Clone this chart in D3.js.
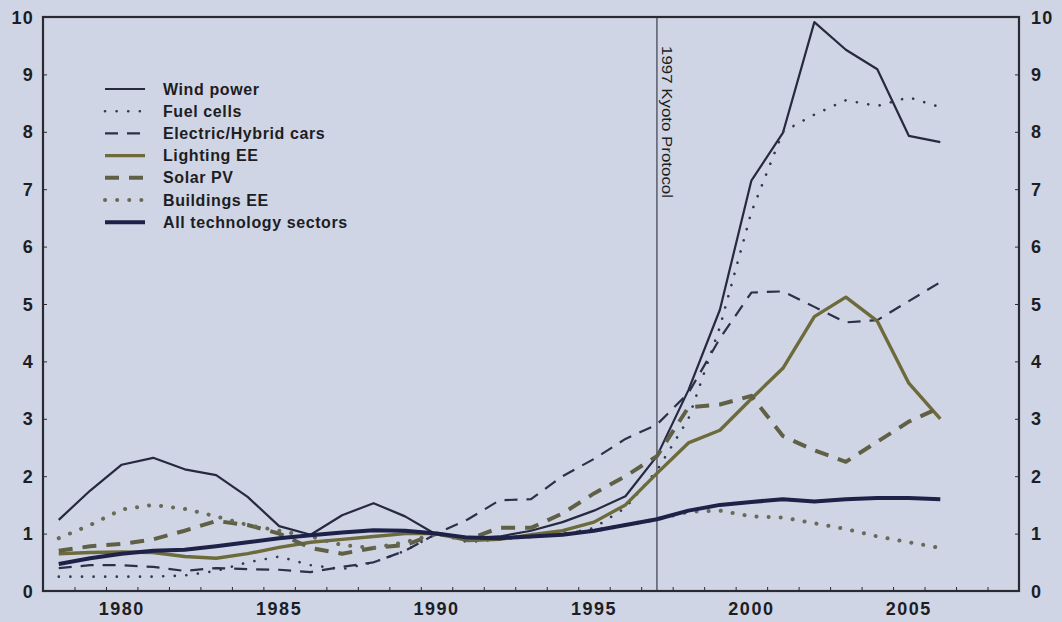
<!DOCTYPE html>
<html>
<head>
<meta charset="utf-8">
<script src="https://cdn.jsdelivr.net/npm/d3@7"></script>
<style>
  body { margin: 0; background: #cfd5e4; }
  text { font-family: "Liberation Sans", Arial, sans-serif; font-weight: bold; fill: #1d1d24; }
</style>
</head>
<body>
<div id="chart"></div>
<script>
// years 1978..2006
const years = d3.range(1978, 2007)

const windPower   = [1.24,1.75,2.2,2.32,2.12,2.02,1.64,1.13,0.98,1.32,1.53,1.3,0.98,0.92,0.95,1.05,1.2,1.4,1.65,2.35,3.5,4.9,7.15,7.98,9.91,9.43,9.09,7.93,7.82]
const fuelCells   = [0.25,0.25,0.25,0.25,0.27,0.35,0.5,0.6,0.45,0.38,0.5,0.7,1.0,0.85,0.9,0.95,0.98,1.1,1.45,2.1,3.0,4.6,6.6,8.0,8.3,8.55,8.45,8.6,8.43]
const electricCars= [0.4,0.45,0.45,0.42,0.35,0.4,0.38,0.37,0.33,0.42,0.5,0.7,1.0,1.25,1.58,1.6,2.0,2.3,2.65,2.9,3.45,4.4,5.2,5.22,4.95,4.68,4.72,5.05,5.38]
const lightingEE  = [0.65,0.67,0.68,0.67,0.6,0.57,0.65,0.76,0.85,0.9,0.95,1.0,1.0,0.88,0.9,0.98,1.05,1.2,1.5,2.05,2.58,2.8,3.35,3.88,4.78,5.12,4.7,3.62,3.0]
const solarPV     = [0.7,0.78,0.82,0.9,1.05,1.22,1.15,1.0,0.75,0.65,0.75,0.8,1.0,0.9,1.1,1.1,1.35,1.7,2.0,2.35,3.2,3.25,3.4,2.7,2.45,2.25,2.6,2.95,3.2]
const buildingsEE = [0.92,1.15,1.42,1.5,1.43,1.3,1.15,1.05,0.95,0.8,0.75,0.85,1.0,0.9,0.92,0.95,1.0,1.05,1.15,1.25,1.38,1.4,1.3,1.28,1.18,1.08,0.95,0.85,0.75]
const allSectors  = [0.47,0.57,0.65,0.7,0.72,0.78,0.85,0.92,0.97,1.02,1.06,1.05,1.0,0.93,0.92,0.95,0.98,1.05,1.15,1.25,1.4,1.5,1.55,1.6,1.56,1.6,1.62,1.62,1.6]

const seriesNames = ["Wind power","Fuel cells","Electric/Hybrid cars","Lighting EE","Solar PV","Buildings EE","All technology sectors"]
const seriesValues = [windPower, fuelCells, electricCars, lightingEE, solarPV, buildingsEE, allSectors]

const xTickLabels = [1980, 1985, 1990, 1995, 2000, 2005]
const yTickLabels = d3.range(0, 11)
const kyotoYear = 1997

const styles = [
    {color: "#262940", width: 2.2, dash: null,       cap: "butt"},
    {color: "#34384f", width: 2.6, dash: "0.1,11.5", cap: "round"},
    {color: "#2c3048", width: 2.2, dash: "13,9",     cap: "butt"},
    {color: "#6d6a3c", width: 3.4, dash: null,       cap: "butt"},
    {color: "#5f6046", width: 4,   dash: "14,10",    cap: "butt"},
    {color: "#6a6a58", width: 4,   dash: "0.1,12",   cap: "round"},
    {color: "#1e2148", width: 4,   dash: null,       cap: "butt"}
]

const outerWidth = 1062, outerHeight = 622
const margin = {left: 43, right: 43, top: 17, bottom: 31}

const x = d3.scaleLinear()
    .domain([1977.5, 2008.5])
    .range([margin.left, outerWidth - margin.right])

const y = d3.scaleLinear()
    .domain([0, 10])
    .range([outerHeight - margin.bottom, margin.top])

const svg = d3.select("#chart").append("svg")
    .attr("width", outerWidth)
    .attr("height", outerHeight)

svg.append("rect")
    .attr("width", outerWidth)
    .attr("height", outerHeight)
    .attr("fill", "#cfd5e4")

// kyoto marker
svg.append("line")
    .attr("x1", x(kyotoYear)).attr("x2", x(kyotoYear))
    .attr("y1", y(10)).attr("y2", y(0))
    .attr("stroke", "#3a3c4c")
    .attr("stroke-width", 1.2)

svg.append("text")
    .text("1997 Kyoto Protocol")
    .attr("transform", "translate(" + (x(kyotoYear) + 5) + "," + 46 + ") rotate(90)")
    .attr("font-size", 15)
    .style("font-weight", "normal")
    .attr("textLength", 152)
    .attr("lengthAdjust", "spacingAndGlyphs")

// lines
const line = d3.line()
    .x((d, i) => x(years[i]))
    .y(d => y(d))

svg.selectAll(".series")
    .data(seriesValues)
    .enter().append("path")
    .attr("class", "series")
    .attr("d", d => line(d))
    .attr("fill", "none")
    .attr("stroke", (d, i) => styles[i].color)
    .attr("stroke-width", (d, i) => styles[i].width)
    .attr("stroke-dasharray", (d, i) => styles[i].dash)
    .attr("stroke-linecap", (d, i) => styles[i].cap)
    .attr("stroke-linejoin", "round")

// frame + axes
const xAxis = d3.axisBottom(x)
    .tickValues(d3.range(1978.5, 2008.5, 1))
    .tickSize(-4)
    .tickFormat("")

svg.append("g")
    .attr("transform", "translate(0," + y(0) + ")")
    .call(xAxis)
    .call(g => g.select(".domain").remove())
    .selectAll("line").attr("stroke", "#2a2a35")

svg.append("g")
    .attr("transform", "translate(" + x(1977.5) + ",0)")
    .call(d3.axisLeft(y).tickValues(yTickLabels).tickSize(-4).tickFormat(""))
    .call(g => g.select(".domain").remove())
    .selectAll("line").attr("stroke", "#2a2a35")

svg.append("g")
    .attr("transform", "translate(" + x(2008.5) + ",0)")
    .call(d3.axisRight(y).tickValues(yTickLabels).tickSize(-4).tickFormat(""))
    .call(g => g.select(".domain").remove())
    .selectAll("line").attr("stroke", "#2a2a35")

svg.append("rect")
    .attr("x", x(1977.5))
    .attr("y", y(10))
    .attr("width", x(2008.5) - x(1977.5))
    .attr("height", y(0) - y(10))
    .attr("fill", "none")
    .attr("stroke", "#2a2a35")
    .attr("stroke-width", 2.2)

// tick labels
svg.selectAll(".ylabL")
    .data(yTickLabels)
    .enter().append("text")
    .text(d => d)
    .attr("x", 34)
    .attr("y", d => y(d) + 6.5)
    .attr("text-anchor", "end")
    .attr("font-size", 18)
    .attr("letter-spacing", 1.2)

svg.selectAll(".ylabR")
    .data(yTickLabels)
    .enter().append("text")
    .text(d => d)
    .attr("x", 1031)
    .attr("y", d => y(d) + 6.5)
    .attr("font-size", 18)
    .attr("letter-spacing", 1.2)

svg.selectAll(".xlab")
    .data(xTickLabels)
    .enter().append("text")
    .text(d => d)
    .attr("x", d => x(d))
    .attr("y", 615)
    .attr("text-anchor", "middle")
    .attr("font-size", 18)
    .attr("letter-spacing", 1.5)

// legend
const legend = svg.append("g")
    .attr("transform", "translate(105,89)")

const rows = legend.selectAll("g")
    .data(seriesNames)
    .enter().append("g")
    .attr("transform", (d, i) => "translate(0," + i * 22.2 + ")")

rows.append("line")
    .attr("x1", 0).attr("x2", 40)
    .attr("stroke", (d, i) => styles[i].color)
    .attr("stroke-width", (d, i) => styles[i].width)
    .attr("stroke-dasharray", (d, i) => styles[i].dash)
    .attr("stroke-linecap", (d, i) => styles[i].cap)

rows.append("text")
    .text(d => d)
    .attr("x", 58)
    .attr("y", 5.5)
    .attr("font-size", 16)
    .attr("letter-spacing", 0.6)
</script>
</body>
</html>
